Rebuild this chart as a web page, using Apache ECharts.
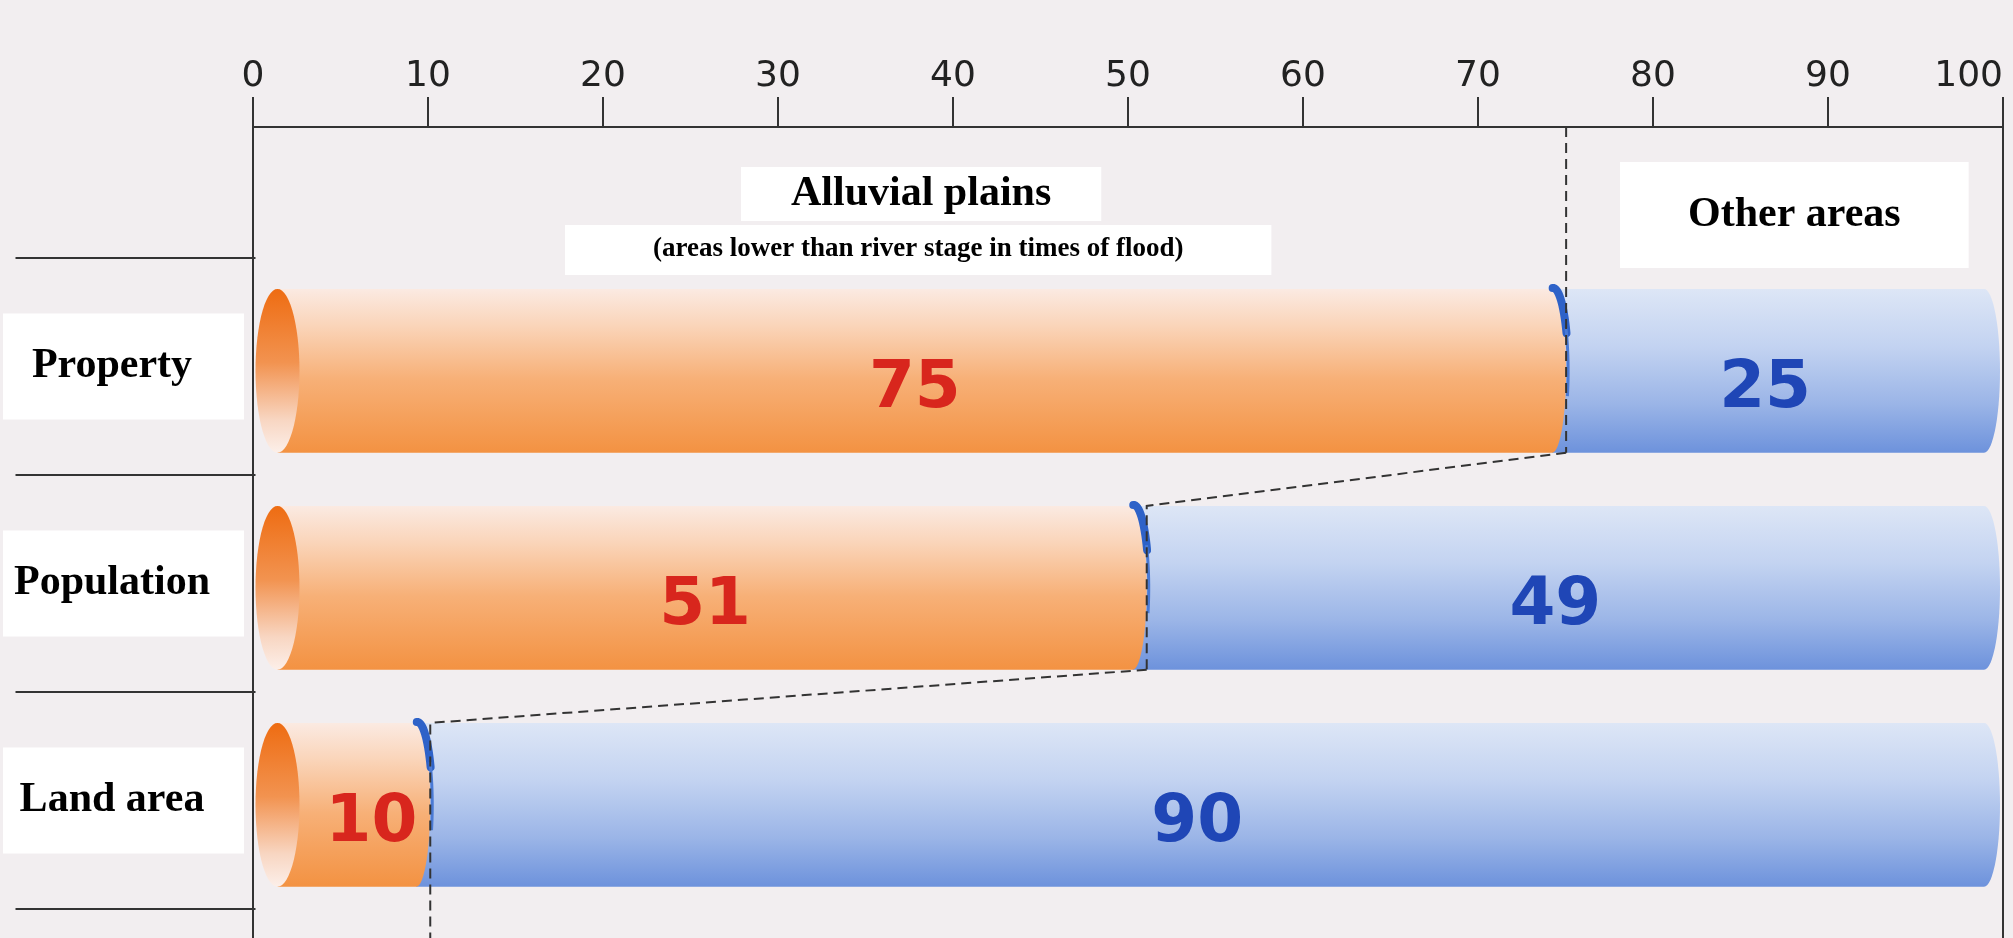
<!DOCTYPE html>
<html>
<head>
<meta charset="utf-8">
<script src="https://cdn.jsdelivr.net/npm/echarts@6/dist/echarts.min.js"></script>
<style>
html,body{margin:0;padding:0;background:#f2eef0;}
#chart{width:2013px;height:938px;}
</style>
</head>
<body>
<div id="chart"></div>
<script>
// ---- data ----
const categories = ['Property', 'Population', 'Land area'];
const alluvialShare = [75, 51, 10];
const otherShare = [25, 49, 90];
const axisMin = 0;
const axisMax = 100;
const axisStep = 10;
const headerMain = 'Alluvial plains';
const headerSub = '(areas lower than river stage in times of flood)';
const headerOther = 'Other areas';

// ---- layout ----
const FRAME_TOP = 127;
const ROWS_TOP = 258;
const ROWS_BOTTOM = 29;
const GRID_LEFT = 253;
const GRID_RIGHT = 10;
const BAR_RATIO = 0.755;
const BAR_SHIFT = 0.02;

const chart = echarts.init(document.getElementById('chart'), null, {renderer: 'canvas'});

function ellipsePoints(cx, cy, rx, ry, a0, a1, n) {
  const pts = [];
  for (let k = 0; k <= n; k++) {
    const a = a0 + (a1 - a0) * k / n;
    pts.push([cx + rx * Math.cos(a), cy + ry * Math.sin(a)]);
  }
  return pts;
}

function vGrad(stops) {
  return new echarts.graphic.LinearGradient(0, 0, 0, 1, stops.map(s => ({offset: s[0], color: s[1]})));
}

function renderRow(params, api) {
  const i = api.value(2);
  const a = api.value(0);
  const o = api.value(1);
  const band = api.size([0, 1])[1];
  const h = band * BAR_RATIO;
  const ry = h / 2;
  const p0 = api.coord([0, i]);
  const pv = api.coord([a, i]);
  const pe = api.coord([a + o, i]);
  const yc = p0[1] + band * BAR_SHIFT;
  const top = yc - ry, bot = yc + ry;
  const x0 = p0[0], xv = pv[0], xe = pe[0] - 3;
  const rCap = 22, rEnd = 14, rBlue = 16;
  const H = Math.PI / 2;
  const labelY = yc + h * 0.08 + 6;

  const children = [];
  // blue body (other areas)
  const bluePts = [[xv - rEnd, top]]
    .concat(ellipsePoints(xe - rBlue, yc, rBlue, ry, -H, H, 30))
    .concat([[xv - rEnd, bot]]);
  children.push({
    type: 'polygon', shape: {points: bluePts},
    style: {fill: vGrad([[0, '#dde6f6'], [0.35, '#c3d3f1'], [0.7, '#9bb5e7'], [1, '#6d92dc']])}
  });
  // orange body (alluvial plains)
  const orPts = [[x0 + rCap, top]]
    .concat(ellipsePoints(xv - rEnd, yc, rEnd, ry, -H, H, 30))
    .concat([[x0 + rCap, bot]]);
  children.push({
    type: 'polygon', shape: {points: orPts},
    style: {fill: vGrad([[0, '#fbeae2'], [0.22, '#fad5ba'], [0.55, '#f7b077'], [1, '#f39242']])}
  });
  // left end face
  children.push({
    type: 'polygon', shape: {points: ellipsePoints(x0 + rCap, yc, rCap, ry, 0, Math.PI * 2, 60)},
    style: {fill: vGrad([[0, '#ee6c12'], [0.45, '#f29350'], [0.8, '#f8d6c2'], [1, '#fcefe9']])}
  });
  // blue rim where the two segments meet
  children.push({
    type: 'polyline',
    shape: {points: ellipsePoints(xv - rEnd + 1, yc, rEnd + 1, ry + 1, -H * 1.02, -H * 0.3, 16)},
    style: {stroke: '#2e62c8', lineWidth: 8, fill: null, lineCap: 'round'}
  });
  children.push({
    type: 'polyline',
    shape: {points: ellipsePoints(xv - rEnd + 1, yc, rEnd + 1, ry, -H * 0.35, H * 0.2, 12)},
    style: {stroke: '#4a7ad4', lineWidth: 3, fill: null}
  });
  // value labels
  const orangeX = Math.max((x0 + xv) / 2 + 4, x0 + 2 * rCap + 72);
  children.push({
    type: 'text',
    style: {
      text: String(a), x: orangeX, y: labelY,
      align: 'center', verticalAlign: 'middle',
      fill: '#d8261d', fontFamily: 'DejaVu Sans', fontWeight: 'bold', fontSize: 66
    }
  });
  children.push({
    type: 'text',
    style: {
      text: String(o), x: (xv + xe) / 2 - 18, y: labelY,
      align: 'center', verticalAlign: 'middle',
      fill: '#1f46b6', fontFamily: 'DejaVu Sans', fontWeight: 'bold', fontSize: 66
    }
  });
  // dashed connector
  let start;
  if (i === 0) {
    start = [xv, params.coordSys.y - (ROWS_TOP - FRAME_TOP)];
  } else {
    const pp = api.coord([alluvialShare[i - 1], i - 1]);
    start = [pp[0], pp[1] + band * BAR_SHIFT + ry];
  }
  const cpts = [start, [xv, top], [xv, bot]];
  if (i === categories.length - 1) cpts.push([xv, api.getHeight()]);
  children.push({
    type: 'polyline', shape: {points: cpts},
    style: {stroke: '#333', lineWidth: 2, lineDash: [10, 6], fill: null}
  });
  return {type: 'group', children: children};
}

const serifBold = {fontFamily: 'Liberation Serif', fontWeight: 'bold', color: '#000'};
const frameLine = {show: true, onZero: false, lineStyle: {color: '#333', width: 2}};

const option = {
  backgroundColor: '#f2eef0',
  animation: false,
  title: [
    {text: headerMain, left: 741, top: 167, padding: [6, 50, 6, 50], backgroundColor: '#fff',
     textStyle: Object.assign({fontSize: 42, lineHeight: 42}, serifBold)},
    {text: headerSub, left: 565, top: 225, padding: [11, 88, 12, 88], backgroundColor: '#fff',
     textStyle: Object.assign({fontSize: 27, lineHeight: 27}, serifBold)},
    {text: headerOther, left: 1620, top: 162, padding: [32, 68, 32, 68], backgroundColor: '#fff',
     textStyle: Object.assign({fontSize: 42, lineHeight: 42}, serifBold)}
  ],
  grid: [
    {left: GRID_LEFT, right: GRID_RIGHT, top: FRAME_TOP, bottom: 0},
    {left: GRID_LEFT, right: GRID_RIGHT, top: ROWS_TOP, bottom: ROWS_BOTTOM}
  ],
  xAxis: [
    {gridIndex: 0, type: 'value', position: 'top', min: axisMin, max: axisMax, interval: axisStep,
     axisLine: frameLine,
     axisTick: {show: true, inside: false, length: 30, lineStyle: {color: '#333', width: 2}},
     axisLabel: {margin: 32, fontFamily: 'DejaVu Sans', fontSize: 36, color: '#222', alignMaxLabel: 'right'},
     splitLine: {show: false}},
    {gridIndex: 1, type: 'value', min: axisMin, max: axisMax, show: false}
  ],
  yAxis: [
    {gridIndex: 0, type: 'value', position: 'left', min: 0, max: 1, axisLine: frameLine,
     axisTick: {show: false}, axisLabel: {show: false}, splitLine: {show: false}},
    {gridIndex: 0, type: 'value', position: 'right', min: 0, max: 1, axisLine: frameLine,
     axisTick: {show: false}, axisLabel: {show: false}, splitLine: {show: false}},
    {gridIndex: 1, type: 'category', inverse: true, data: categories,
     axisLine: {show: false, onZero: false},
     axisTick: {show: true, inside: false, length: 240, lineStyle: {color: '#333', width: 2}},
     axisLabel: Object.assign({
       margin: 132, align: 'center', width: 218, overflow: 'none',
       padding: [32, 23, 32, 0], backgroundColor: '#fff', fontSize: 42, lineHeight: 42
     }, serifBold),
     splitLine: {show: false}}
  ],
  series: [{
    type: 'custom',
    xAxisIndex: 1,
    yAxisIndex: 2,
    clip: false,
    renderItem: renderRow,
    encode: {x: [0], y: 2},
    data: categories.map((c, i) => [alluvialShare[i], otherShare[i], i])
  }]
};
chart.setOption(option);
</script>
</body>
</html>
